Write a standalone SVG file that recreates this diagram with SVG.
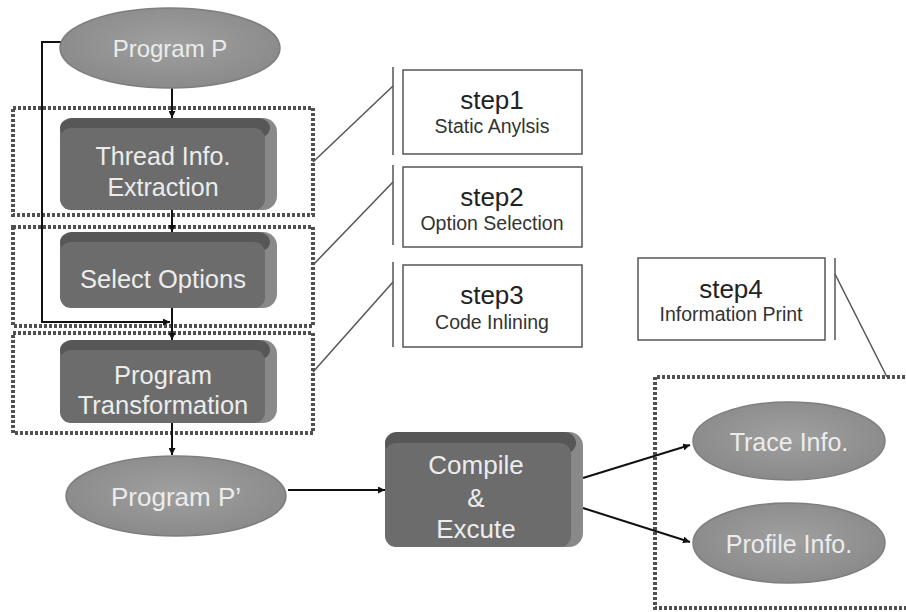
<svg xmlns="http://www.w3.org/2000/svg" width="906" height="612" viewBox="0 0 906 612">
<defs>
<marker id="ah" viewBox="0 0 10 10" refX="10" refY="5" markerWidth="7" markerHeight="7" markerUnits="userSpaceOnUse" orient="auto"><path d="M0,0 L10,5 L0,10 z" fill="#111"/></marker>
<radialGradient id="eg" cx="50%" cy="45%" r="60%"><stop offset="0" stop-color="#a0a0a0"/><stop offset="1" stop-color="#888888"/></radialGradient>
<linearGradient id="side" x1="0" y1="0" x2="1" y2="0"><stop offset="0" stop-color="#6a6a6a"/><stop offset="1" stop-color="#8a8a8a"/></linearGradient>
</defs>
<style>
.bg{fill:#ffffff}
.dot{fill:none;stroke:#505050;stroke-width:4;stroke-dasharray:3 2}
.ell{fill:url(#eg);stroke:#7e7e7e;stroke-width:1.5}
.back{fill:url(#side)}
.top{fill:#575757}
.front{fill:#6c6c6c}
.lt{font-family:"Liberation Sans","DejaVu Sans",sans-serif;fill:#ececec;text-anchor:middle}
.st{fill:#fff;stroke:#555;stroke-width:1.5}
.sl{fill:none;stroke:#555;stroke-width:1.5}
.s1{font-family:"Liberation Sans","DejaVu Sans",sans-serif;fill:#222;text-anchor:middle;font-size:26px}
.s2{font-family:"Liberation Sans","DejaVu Sans",sans-serif;fill:#333;text-anchor:middle;font-size:19.5px}
.c{fill:none;stroke:#111;stroke-width:2}
</style>
<rect class="bg" width="906" height="612"/>

<g id="groups">
<rect class="dot" x="13" y="108" width="300" height="107"/>
<rect class="dot" x="13" y="227" width="300" height="99"/>
<rect class="dot" x="13" y="333" width="300" height="100"/>
<path class="dot" d="M910,377 L655,377 L655,608 L910,608"/>
</g>

<g id="step-lines">
<line class="sl" x1="393" y1="67" x2="393" y2="155"/>
<line class="sl" x1="313" y1="162" x2="393" y2="86"/>
<line class="sl" x1="393" y1="165" x2="393" y2="245"/>
<line class="sl" x1="313" y1="265" x2="393" y2="182"/>
<line class="sl" x1="393" y1="262" x2="393" y2="347"/>
<line class="sl" x1="313" y1="372" x2="393" y2="282"/>
<line class="sl" x1="835" y1="258" x2="835" y2="340"/>
<line class="sl" x1="835" y1="274" x2="887" y2="377"/>
</g>

<g id="step1"><rect class="st" x="403" y="70" width="179" height="84"/><text class="s1" x="492" y="109">step1</text><text class="s2" x="492" y="133">Static Anylsis</text></g>
<g id="step2"><rect class="st" x="403" y="167" width="179" height="80"/><text class="s1" x="492" y="206">step2</text><text class="s2" x="492" y="230">Option Selection</text></g>
<g id="step3"><rect class="st" x="403" y="265" width="179" height="82"/><text class="s1" x="492" y="304">step3</text><text class="s2" x="492" y="329">Code Inlining</text></g>
<g id="step4"><rect class="st" x="638" y="258" width="187" height="82"/><text class="s1" x="731" y="298">step4</text><text class="s2" x="731" y="321">Information Print</text></g>

<g id="connectors">
<path class="c" d="M63,42 L42,42 L42,322 L170,322" marker-end="url(#ah)"/>
<line class="c" x1="172" y1="88" x2="172" y2="118" marker-end="url(#ah)"/>
<line class="c" x1="172" y1="210" x2="172" y2="232" marker-end="url(#ah)"/>
<line class="c" x1="172" y1="308" x2="172" y2="340" marker-end="url(#ah)"/>
<line class="c" x1="172" y1="423" x2="172" y2="455" marker-end="url(#ah)"/>
<line class="c" x1="288" y1="490" x2="385" y2="490" marker-end="url(#ah)"/>
<line class="c" x1="583" y1="478" x2="690" y2="445" marker-end="url(#ah)"/>
<line class="c" x1="583" y1="508" x2="690" y2="542" marker-end="url(#ah)"/>
</g>

<g id="programP"><ellipse class="ell" cx="170" cy="48" rx="110" ry="40"/><text class="lt" x="170" y="57" font-size="24">Program P</text></g>

<g id="thread">
<rect class="back" x="60" y="118" width="217" height="92" rx="14"/>
<rect class="top" x="60" y="118" width="210" height="20" rx="12"/>
<rect class="front" x="60" y="128" width="205" height="82" rx="11"/>
<text class="lt" x="163" y="165" font-size="25">Thread Info.</text>
<text class="lt" x="163" y="196" font-size="25">Extraction</text>
</g>

<g id="select">
<rect class="back" x="60" y="232" width="217" height="76" rx="14"/>
<rect class="top" x="60" y="232" width="210" height="20" rx="12"/>
<rect class="front" x="60" y="242" width="205" height="66" rx="11"/>
<text class="lt" x="163" y="288" font-size="25.5">Select Options</text>
</g>

<g id="transform">
<rect class="back" x="60" y="340" width="217" height="83" rx="14"/>
<rect class="top" x="60" y="340" width="210" height="20" rx="12"/>
<rect class="front" x="60" y="350" width="205" height="73" rx="11"/>
<text class="lt" x="163" y="384" font-size="25.5">Program</text>
<text class="lt" x="163" y="414" font-size="25.5">Transformation</text>
</g>

<g id="programP2"><ellipse class="ell" cx="176" cy="496" rx="110" ry="40"/><text class="lt" x="176" y="506" font-size="26">Program P’</text></g>

<g id="compile">
<rect class="back" x="385" y="432" width="198" height="115" rx="14"/>
<rect class="top" x="385" y="432" width="191" height="22" rx="12"/>
<rect class="front" x="385" y="443" width="186" height="104" rx="11"/>
<text class="lt" x="476" y="474" font-size="26">Compile</text>
<text class="lt" x="476" y="507" font-size="26">&amp;</text>
<text class="lt" x="476" y="538" font-size="26">Excute</text>
</g>

<g id="trace"><ellipse class="ell" cx="789" cy="441" rx="96" ry="39"/><text class="lt" x="789" y="451" font-size="25">Trace Info.</text></g>
<g id="profile"><ellipse class="ell" cx="789" cy="543" rx="96" ry="40"/><text class="lt" x="789" y="553" font-size="25">Profile Info.</text></g>
</svg>
